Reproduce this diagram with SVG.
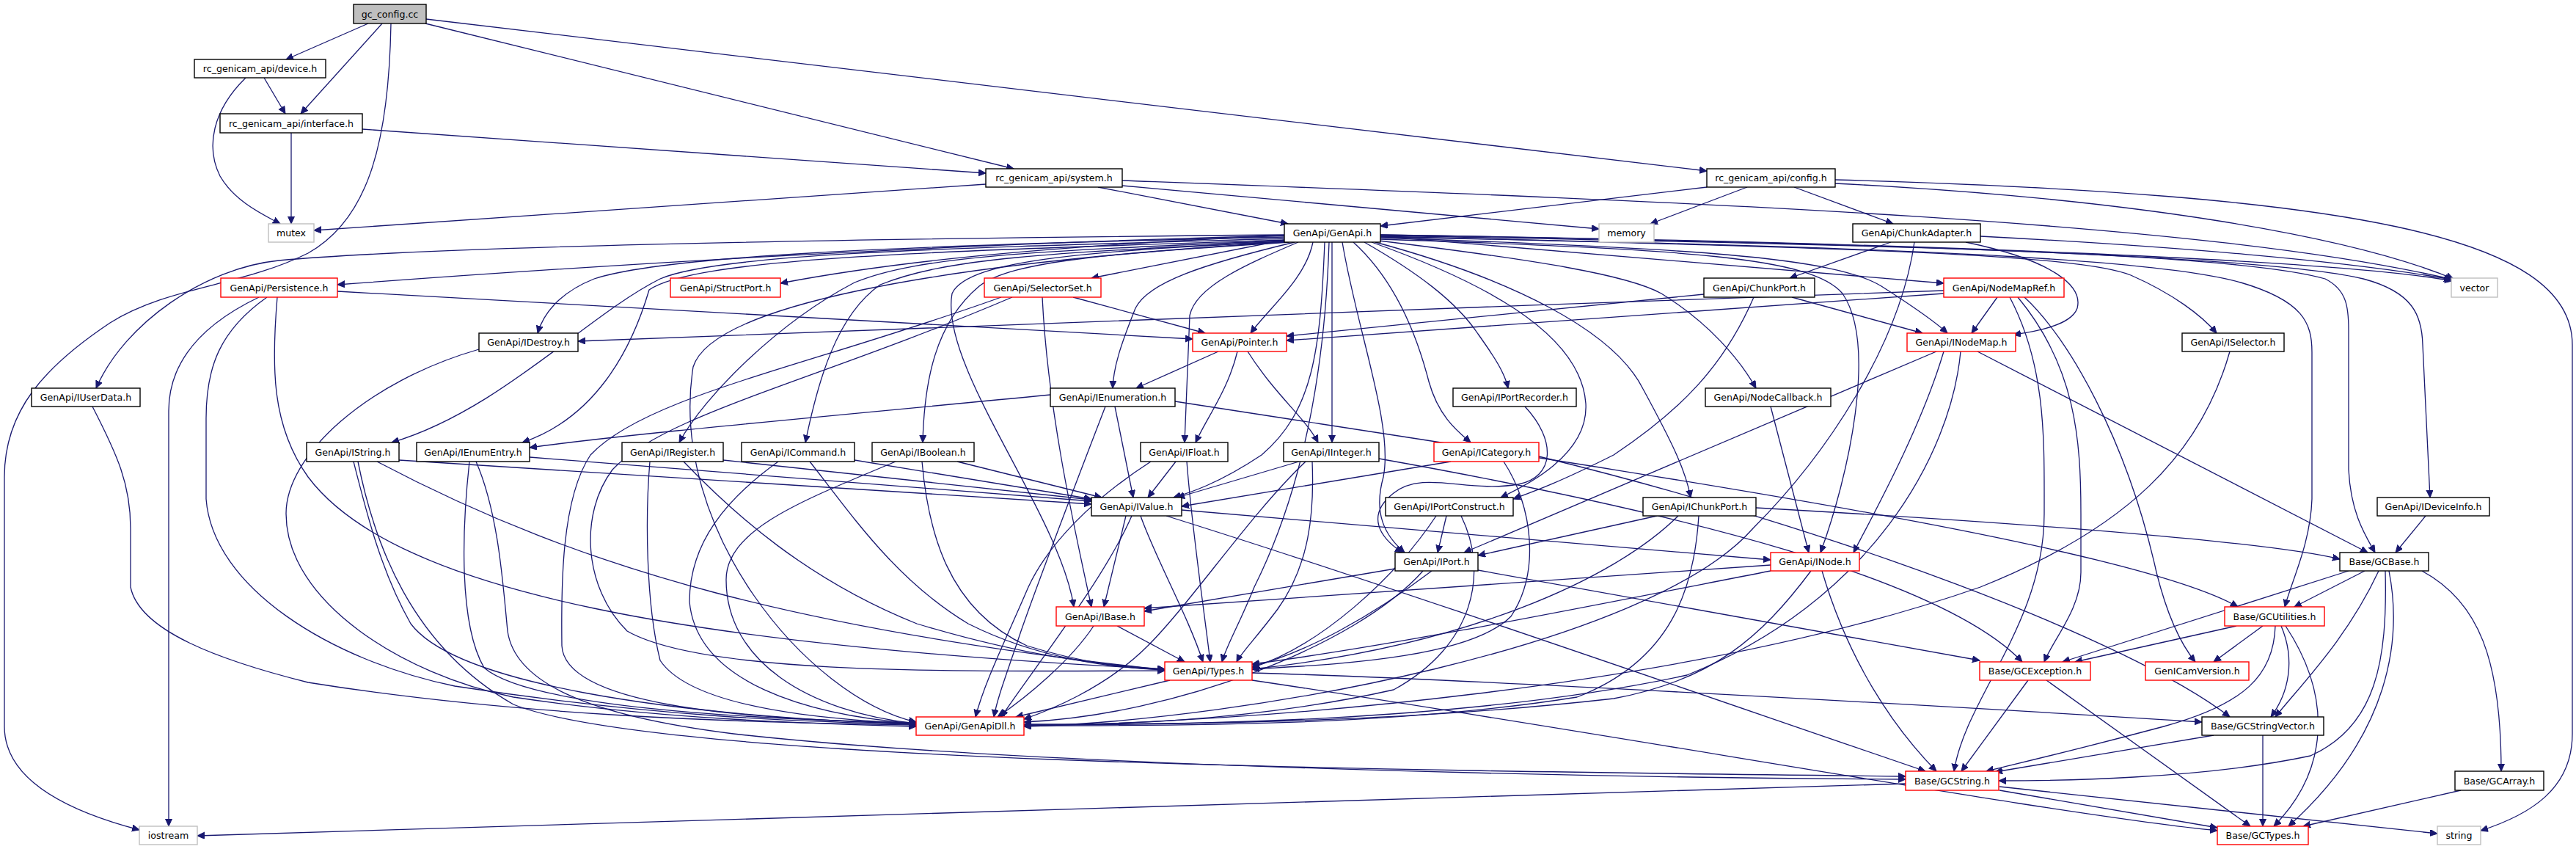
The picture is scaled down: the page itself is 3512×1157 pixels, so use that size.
<svg xmlns="http://www.w3.org/2000/svg" width="3512" height="1157" viewBox="0 0 3512 1157">
<style>
rect{fill:#fff;stroke-width:1.4}
.n rect{stroke:#000}
.r rect{stroke:#f00}
.g rect{stroke:#bfbfbf}
.root rect{fill:#bfbfbf;stroke:#000}
text{font-family:"DejaVu Sans","Liberation Sans",sans-serif;font-size:12.6px;text-anchor:middle;fill:#000}
#edges path{fill:none;stroke:#191970;stroke-width:1.3;marker-end:url(#ah)}
</style>
<defs>
<marker id="ah" markerUnits="userSpaceOnUse" markerWidth="12" markerHeight="10" refX="10" refY="4.5" orient="auto"><path d="M0,0 L10,4.5 L0,9 z" fill="#191970" stroke="#191970" stroke-width="1"/></marker>
</defs>
<rect x="0" y="0" width="3512" height="1157" style="fill:#fff;stroke:none"/>
<g id="edges">
<path d="M502,32 L390,81"/>
<path d="M521,32 L410,155"/>
<path d="M580,32 L1382,230"/>
<path d="M581,26 L2327,233"/>
<path d="M533,32 C530,200 500,300 420,345 C330,390 230,390 150,440 C60,500 6,560 6,650 L6,990 C6,1070 110,1110 190,1131"/>
<path d="M360,106 L389,155"/>
<path d="M335,106 C290,150 280,200 300,240 C320,275 360,293 382,305"/>
<path d="M397,181 L397,305"/>
<path d="M494,176 L1344,236"/>
<path d="M1344,251 L428,314"/>
<path d="M1497,255 L1756,305"/>
<path d="M1530,253 L2180,312"/>
<path d="M1530,246 C2300,275 3000,300 3344,381"/>
<path d="M2327,255 L1882,308"/>
<path d="M2382,255 L2250,305"/>
<path d="M2446,255 L2581,305"/>
<path d="M2502,250 C2900,270 3200,320 3345,380"/>
<path d="M2502,245 C3200,265 3507,320 3507,470 L3507,1000 C3507,1075 3450,1110 3382,1132"/>
<path d="M2578,330 L2440,379"/>
<path d="M2680,330 C2800,355 2840,390 2832,420 C2825,440 2790,450 2745,456"/>
<path d="M2700,322 C2950,335 3200,355 3342,381"/>
<path d="M2610,330 C2590,470 2490,620 2390,720 C2250,880 1700,982 1396,990"/>
<path d="M1751,320 C1200,325 600,335 380,355 C280,365 170,440 131,529"/>
<path d="M1751,321 C1200,335 700,370 460,388"/>
<path d="M1751,323 C1200,335 900,350 810,380 C760,400 740,430 733,454"/>
<path d="M1752,325 C1300,338 980,345 900,380 C800,430 680,560 534,603"/>
<path d="M1753,327 C1300,342 950,350 885,395 C860,480 810,570 712,603"/>
<path d="M1755,328 C1400,342 1250,350 1165,385 C1060,440 960,540 926,603"/>
<path d="M1756,329 C1420,345 1290,352 1200,388 C1140,430 1115,520 1098,603"/>
<path d="M1758,330 C1520,345 1380,355 1335,390 C1275,440 1260,520 1258,603"/>
<path d="M1751,321 C1400,336 1200,360 1064,386"/>
<path d="M1751,327 L1488,379"/>
<path d="M1765,330 C1640,360 1565,385 1548,420 C1528,470 1518,500 1517,529"/>
<path d="M1790,330 C1780,380 1730,420 1705,454"/>
<path d="M1770,330 C1700,360 1630,390 1622,430 L1615,603"/>
<path d="M1816,330 L1816,603"/>
<path d="M1806,330 C1800,480 1790,560 1720,620 C1660,660 1620,672 1600,678"/>
<path d="M1751,329 C1500,342 1320,352 1298,400 C1280,500 1445,700 1464,827"/>
<path d="M1812,330 C1805,550 1760,700 1710,800 C1690,850 1672,880 1666,902"/>
<path d="M1751,330 C1250,360 970,420 945,500 C910,720 1100,950 1249,984"/>
<path d="M1860,330 C1930,370 1985,410 2015,455 C2040,490 2052,510 2056,529"/>
<path d="M1845,330 C1900,380 1930,450 1948,520 C1962,570 1990,590 2005,603"/>
<path d="M1870,330 C2010,380 2155,450 2162,550 C2166,620 2080,662 2046,678"/>
<path d="M1830,330 C1850,450 1900,580 1886,650 C1872,700 1888,730 1915,753"/>
<path d="M1880,328 C2100,355 2220,375 2265,400 C2330,440 2372,490 2394,529"/>
<path d="M1875,330 C2060,380 2200,450 2240,530 C2278,600 2298,640 2305,678"/>
<path d="M1882,326 C2300,340 2470,350 2512,400 C2560,470 2520,650 2482,753"/>
<path d="M1882,324 C2300,338 2500,350 2565,390 C2612,420 2640,440 2655,454"/>
<path d="M1882,322 L2650,386"/>
<path d="M1882,322 C2500,338 2830,345 2905,375 C2962,400 3002,430 3022,454"/>
<path d="M1882,320 C2600,332 3100,350 3222,380 C3290,398 3302,430 3303,470 L3313,678"/>
<path d="M1882,321 C2600,334 3050,345 3170,380 C3200,395 3202,420 3202,450 L3202,640 C3205,700 3225,730 3238,753"/>
<path d="M1882,323 C2700,338 2960,358 3055,385 C3140,410 3152,440 3152,480 L3152,680 C3150,740 3125,790 3115,827"/>
<path d="M1882,320 C2600,330 3200,355 3343,383"/>
<path d="M460,397 L1626,462"/>
<path d="M353,405 C280,440 230,490 230,560 L230,1126"/>
<path d="M364,405 C300,450 281,500 281,570 L281,680 C290,800 450,900 620,935 C900,978 1100,984 1249,987"/>
<path d="M378,405 C370,500 370,580 420,650 C540,810 950,880 1588,912"/>
<path d="M126,554 C160,620 178,660 178,720 L178,800 C190,860 300,900 420,930 C700,975 1000,985 1249,988"/>
<path d="M653,476 C500,520 390,620 390,700 C390,820 550,920 700,950 C900,980 1100,986 1249,990"/>
<path d="M1463,405 L1643,454"/>
<path d="M1421,405 C1428,550 1460,700 1488,827"/>
<path d="M1365,405 C1100,500 880,540 805,620 C765,680 765,800 766,880 C770,960 1000,980 1249,986"/>
<path d="M1380,405 C1110,520 905,565 835,640 C790,700 795,800 855,860 C960,920 1300,915 1588,914"/>
<path d="M1661,479 L1549,529"/>
<path d="M1687,479 C1675,530 1645,570 1630,603"/>
<path d="M1701,479 C1740,540 1780,570 1797,603"/>
<path d="M1432,538 C1100,570 850,592 722,610"/>
<path d="M1520,554 L1545,678"/>
<path d="M1507,554 C1470,650 1420,780 1392,860 C1372,920 1360,950 1355,977"/>
<path d="M1602,547 C2200,640 2900,740 3051,827"/>
<path d="M722,623 L1488,683"/>
<path d="M640,629 C630,720 625,850 660,910 C720,962 1000,980 1249,985"/>
<path d="M649,629 C680,700 686,800 692,860 C702,930 800,975 1000,1000 C1400,1045 2200,1060 2598,1062"/>
<path d="M544,627 L1488,687"/>
<path d="M514,629 C800,780 1100,860 1588,913"/>
<path d="M482,629 C500,700 520,780 560,850 C620,930 900,975 1249,987"/>
<path d="M488,629 C510,740 560,880 700,960 C900,1040 1900,1050 2598,1058"/>
<path d="M986,627 L1488,681"/>
<path d="M932,629 C1000,700 1100,790 1250,850 C1400,895 1500,906 1588,912"/>
<path d="M886,629 C880,700 880,820 900,900 C940,960 1100,980 1249,986"/>
<path d="M1165,627 L1488,680"/>
<path d="M1104,629 C1160,700 1220,790 1320,850 C1420,900 1520,910 1588,913"/>
<path d="M1061,629 C990,680 940,740 940,820 C950,930 1100,975 1249,986"/>
<path d="M1305,629 L1502,678"/>
<path d="M1257,629 C1265,720 1290,830 1400,880 C1480,905 1540,910 1588,913"/>
<path d="M1221,629 C1100,680 990,720 990,790 C990,900 1100,970 1249,986"/>
<path d="M1603,629 L1565,678"/>
<path d="M1569,629 C1490,680 1430,740 1402,800 C1372,870 1342,930 1330,977"/>
<path d="M1618,629 C1625,720 1640,820 1650,902"/>
<path d="M1771,629 L1605,678"/>
<path d="M1789,629 C1792,700 1785,770 1742,830 C1712,870 1692,890 1686,902"/>
<path d="M1780,629 C1705,700 1625,820 1565,880 C1505,940 1425,970 1396,980"/>
<path d="M1880,625 C2300,700 2650,790 2757,902"/>
<path d="M1978,629 L1611,690"/>
<path d="M2050,629 C2090,690 2100,780 2060,840 C2000,900 1800,906 1707,912"/>
<path d="M2098,622 C2500,720 2900,870 3040,977"/>
<path d="M1535,703 L1505,827"/>
<path d="M1555,703 C1575,760 1620,840 1640,902"/>
<path d="M1543,703 C1505,790 1410,910 1365,977"/>
<path d="M1611,695 L2414,763"/>
<path d="M1590,703 C1900,800 2300,940 2625,1051"/>
<path d="M1491,853 C1460,900 1400,950 1360,977"/>
<path d="M1523,853 L1615,902"/>
<path d="M1595,927 L1385,977"/>
<path d="M1707,917 C2000,925 2700,965 3002,984"/>
<path d="M1707,927 C2200,1000 2800,1110 3023,1132"/>
<path d="M1972,703 L1960,753"/>
<path d="M1958,703 C1900,790 1800,880 1707,910"/>
<path d="M1992,703 C2030,780 2010,880 1900,940 C1700,985 1500,988 1396,988"/>
<path d="M2259,703 L2015,757"/>
<path d="M2288,703 C2200,790 2000,880 1707,912"/>
<path d="M2316,703 C2310,800 2280,900 2150,950 C1900,990 1600,989 1396,989"/>
<path d="M2394,692 C2800,715 3100,740 3190,762"/>
<path d="M1902,775 L1560,833"/>
<path d="M1952,778 C1870,840 1780,890 1707,908"/>
<path d="M1940,778 C1850,880 1600,975 1396,984"/>
<path d="M2015,777 L2699,900"/>
<path d="M2414,770 L1560,829"/>
<path d="M2414,778 C2162,827 1900,880 1707,905"/>
<path d="M2469,778 C2400,870 2334,927 2200,952 C1900,986 1600,987 1396,987"/>
<path d="M2484,778 C2520,900 2580,990 2640,1051"/>
<path d="M2414,554 L2466,753"/>
<path d="M2079,554 C2122,600 2120,650 2070,660 C2000,672 1940,640 1900,672 C1862,702 1880,732 1912,753"/>
<path d="M2650,479 C2620,580 2560,690 2527,753"/>
<path d="M2640,479 L1996,753"/>
<path d="M2696,479 L3228,753"/>
<path d="M2673,479 C2660,620 2550,820 2300,920 C2000,985 1600,988 1396,988"/>
<path d="M2723,405 L2688,454"/>
<path d="M2650,400 L1754,464"/>
<path d="M2650,396 C2000,418 1200,450 788,465"/>
<path d="M2740,405 C2790,500 2787,600 2787,700 C2787,850 2680,950 2664,1051"/>
<path d="M2751,405 C2830,500 2837,600 2837,700 L2837,780 C2837,830 2800,870 2787,902"/>
<path d="M2760,405 C2820,460 2900,600 2940,780 C2955,840 2975,880 2993,902"/>
<path d="M2323,401 L1754,458"/>
<path d="M2443,405 L2621,454"/>
<path d="M2391,405 C2350,500 2290,560 2200,620 C2120,660 2090,670 2063,680"/>
<path d="M3040,479 C3000,620 2900,720 2700,800 C2300,940 1700,985 1396,989"/>
<path d="M3307,703 L3266,753"/>
<path d="M3224,778 L3128,827"/>
<path d="M3202,778 L2812,902"/>
<path d="M3243,778 C3200,870 3140,930 3102,977"/>
<path d="M3252,778 C3255,900 3240,990 3150,1030 C3000,1062 2800,1064 2725,1064"/>
<path d="M3257,778 C3275,870 3260,1000 3120,1126"/>
<path d="M3302,778 C3380,820 3410,900 3410,1051"/>
<path d="M3049,853 L2829,902"/>
<path d="M3085,853 L3018,902"/>
<path d="M3102,853 C3100,920 3060,960 2950,990 C2800,1030 2730,1045 2708,1051"/>
<path d="M3110,853 C3130,900 3120,945 3096,977"/>
<path d="M3116,853 C3180,950 3175,1050 3100,1126"/>
<path d="M2765,927 L2674,1051"/>
<path d="M2790,927 L3068,1126"/>
<path d="M3018,1002 L2720,1052"/>
<path d="M3085,1002 L3085,1126"/>
<path d="M2726,1077 L3023,1128"/>
<path d="M2726,1072 L3323,1136"/>
<path d="M2598,1068 L269,1139"/>
<path d="M3355,1077 L3140,1126"/>
</g>
<g id="n_gc_config" class="root"><rect x="482" y="6" width="99" height="26"/><text x="531.5" y="23.5">gc_config.cc</text></g>
<g id="n_device" class="n"><rect x="265" y="81" width="179" height="25"/><text x="354.5" y="98">rc_genicam_api/device.h</text></g>
<g id="n_interface" class="n"><rect x="300" y="155" width="194" height="26"/><text x="397" y="172.5">rc_genicam_api/interface.h</text></g>
<g id="n_system" class="n"><rect x="1344" y="230" width="186" height="25"/><text x="1437" y="247">rc_genicam_api/system.h</text></g>
<g id="n_config" class="n"><rect x="2327" y="230" width="175" height="25"/><text x="2414.5" y="247">rc_genicam_api/config.h</text></g>
<g id="n_mutex" class="g"><rect x="366" y="305" width="62" height="25"/><text x="397" y="322">mutex</text></g>
<g id="n_genapi" class="n"><rect x="1751" y="305" width="131" height="25"/><text x="1816.5" y="322">GenApi/GenApi.h</text></g>
<g id="n_memory" class="g"><rect x="2180" y="305" width="75" height="25"/><text x="2217.5" y="322">memory</text></g>
<g id="n_chunkadapter" class="n"><rect x="2526" y="305" width="174" height="25"/><text x="2613" y="322">GenApi/ChunkAdapter.h</text></g>
<g id="n_persistence" class="r"><rect x="301" y="379" width="159" height="26"/><text x="380.5" y="396.5">GenApi/Persistence.h</text></g>
<g id="n_structport" class="r"><rect x="914" y="379" width="150" height="26"/><text x="989" y="396.5">GenApi/StructPort.h</text></g>
<g id="n_selectorset" class="r"><rect x="1342" y="379" width="159" height="26"/><text x="1421.5" y="396.5">GenApi/SelectorSet.h</text></g>
<g id="n_chunkport" class="n"><rect x="2323" y="379" width="151" height="26"/><text x="2398.5" y="396.5">GenApi/ChunkPort.h</text></g>
<g id="n_nodemapref" class="r"><rect x="2650" y="379" width="164" height="26"/><text x="2732" y="396.5">GenApi/NodeMapRef.h</text></g>
<g id="n_vector" class="g"><rect x="3342" y="379" width="63" height="26"/><text x="3373.5" y="396.5">vector</text></g>
<g id="n_idestroy" class="n"><rect x="653" y="454" width="135" height="25"/><text x="720.5" y="471">GenApi/IDestroy.h</text></g>
<g id="n_pointer" class="r"><rect x="1626" y="454" width="128" height="25"/><text x="1690" y="471">GenApi/Pointer.h</text></g>
<g id="n_inodemap" class="r"><rect x="2600" y="454" width="148" height="25"/><text x="2674" y="471">GenApi/INodeMap.h</text></g>
<g id="n_iselector" class="n"><rect x="2975" y="454" width="139" height="25"/><text x="3044.5" y="471">GenApi/ISelector.h</text></g>
<g id="n_iuserdata" class="n"><rect x="43" y="529" width="148" height="25"/><text x="117" y="546">GenApi/IUserData.h</text></g>
<g id="n_ienumeration" class="n"><rect x="1432" y="529" width="170" height="25"/><text x="1517" y="546">GenApi/IEnumeration.h</text></g>
<g id="n_iportrecorder" class="n"><rect x="1981" y="529" width="168" height="25"/><text x="2065" y="546">GenApi/IPortRecorder.h</text></g>
<g id="n_nodecallback" class="n"><rect x="2325" y="529" width="171" height="25"/><text x="2410.5" y="546">GenApi/NodeCallback.h</text></g>
<g id="n_istring" class="n"><rect x="418" y="603" width="126" height="26"/><text x="481" y="620.5">GenApi/IString.h</text></g>
<g id="n_ienumentry" class="n"><rect x="568" y="603" width="154" height="26"/><text x="645" y="620.5">GenApi/IEnumEntry.h</text></g>
<g id="n_iregister" class="n"><rect x="848" y="603" width="138" height="26"/><text x="917" y="620.5">GenApi/IRegister.h</text></g>
<g id="n_icommand" class="n"><rect x="1011" y="603" width="154" height="26"/><text x="1088" y="620.5">GenApi/ICommand.h</text></g>
<g id="n_iboolean" class="n"><rect x="1189" y="603" width="139" height="26"/><text x="1258.5" y="620.5">GenApi/IBoolean.h</text></g>
<g id="n_ifloat" class="n"><rect x="1555" y="603" width="119" height="26"/><text x="1614.5" y="620.5">GenApi/IFloat.h</text></g>
<g id="n_iinteger" class="n"><rect x="1750" y="603" width="130" height="26"/><text x="1815" y="620.5">GenApi/IInteger.h</text></g>
<g id="n_icategory" class="r"><rect x="1955" y="603" width="143" height="26"/><text x="2026.5" y="620.5">GenApi/ICategory.h</text></g>
<g id="n_ivalue" class="n"><rect x="1488" y="678" width="123" height="25"/><text x="1549.5" y="695">GenApi/IValue.h</text></g>
<g id="n_iportconstruct" class="n"><rect x="1889" y="678" width="174" height="25"/><text x="1976" y="695">GenApi/IPortConstruct.h</text></g>
<g id="n_ichunkport" class="n"><rect x="2240" y="678" width="154" height="25"/><text x="2317" y="695">GenApi/IChunkPort.h</text></g>
<g id="n_ideviceinfo" class="n"><rect x="3241" y="678" width="153" height="25"/><text x="3317.5" y="695">GenApi/IDeviceInfo.h</text></g>
<g id="n_iport" class="n"><rect x="1902" y="753" width="113" height="25"/><text x="1958.5" y="770">GenApi/IPort.h</text></g>
<g id="n_inode" class="r"><rect x="2414" y="753" width="121" height="25"/><text x="2474.5" y="770">GenApi/INode.h</text></g>
<g id="n_gcbase" class="n"><rect x="3190" y="753" width="121" height="25"/><text x="3250.5" y="770">Base/GCBase.h</text></g>
<g id="n_ibase" class="r"><rect x="1440" y="827" width="120" height="26"/><text x="1500" y="844.5">GenApi/IBase.h</text></g>
<g id="n_gcutilities" class="r"><rect x="3033" y="827" width="136" height="26"/><text x="3101" y="844.5">Base/GCUtilities.h</text></g>
<g id="n_types" class="r"><rect x="1588" y="902" width="119" height="25"/><text x="1647.5" y="919">GenApi/Types.h</text></g>
<g id="n_gcexception" class="r"><rect x="2699" y="902" width="151" height="25"/><text x="2774.5" y="919">Base/GCException.h</text></g>
<g id="n_genicamversion" class="r"><rect x="2925" y="902" width="141" height="25"/><text x="2995.5" y="919">GenICamVersion.h</text></g>
<g id="n_genapidll" class="r"><rect x="1249" y="977" width="147" height="25"/><text x="1322.5" y="994">GenApi/GenApiDll.h</text></g>
<g id="n_gcstringvector" class="n"><rect x="3002" y="977" width="166" height="25"/><text x="3085" y="994">Base/GCStringVector.h</text></g>
<g id="n_gcstring" class="r"><rect x="2598" y="1051" width="127" height="26"/><text x="2661.5" y="1068.5">Base/GCString.h</text></g>
<g id="n_gcarray" class="n"><rect x="3347" y="1051" width="121" height="26"/><text x="3407.5" y="1068.5">Base/GCArray.h</text></g>
<g id="n_iostream" class="g"><rect x="190" y="1126" width="79" height="25"/><text x="229.5" y="1143">iostream</text></g>
<g id="n_gctypes" class="r"><rect x="3023" y="1126" width="124" height="25"/><text x="3085" y="1143">Base/GCTypes.h</text></g>
<g id="n_string" class="g"><rect x="3323" y="1126" width="59" height="25"/><text x="3352.5" y="1143">string</text></g>
</svg>
